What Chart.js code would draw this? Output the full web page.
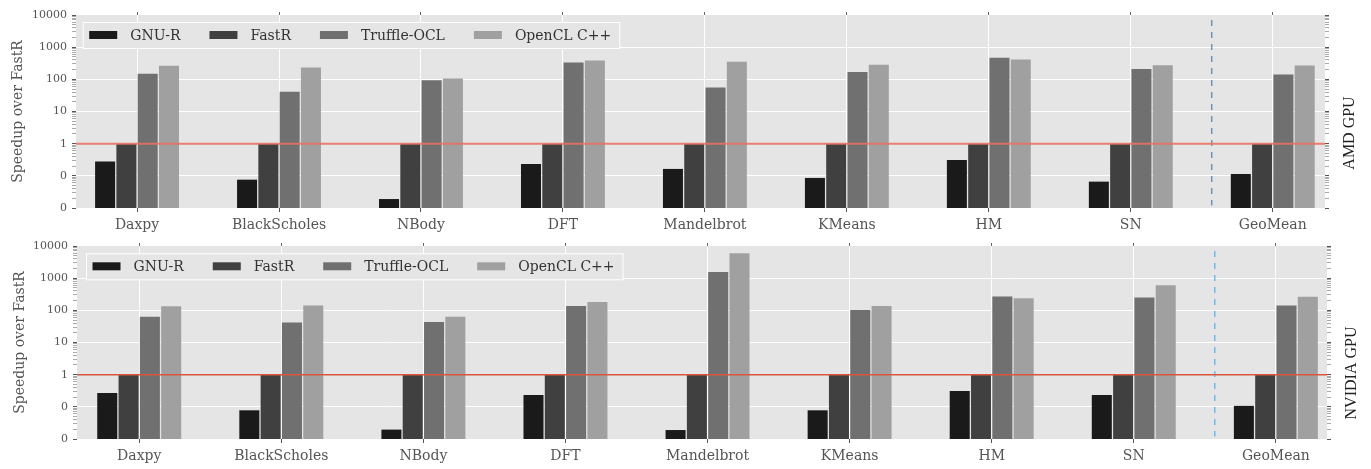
<!DOCTYPE html>
<html>
<head>
<meta charset="utf-8">
<script src="https://cdn.jsdelivr.net/npm/chart.js@4.4.0/dist/chart.umd.min.js"></script>
<style>
  body { margin: 0; background: #fff; }
  canvas { display: block; }
</style>
</head>
<body>
<canvas id="amdChart" width="1371" height="234"></canvas>
<canvas id="nvidiaChart" width="1371" height="235"></canvas>
<script>
// categories and series
const categories = ['Daxpy', 'BlackScholes', 'NBody', 'DFT', 'Mandelbrot', 'KMeans', 'HM', 'SN', 'GeoMean'];
const seriesNames = ['GNU-R', 'FastR', 'Truffle-OCL', 'OpenCL C++'];

// AMD GPU
const amdGnuR = [0.28, 0.076, 0.019, 0.234, 0.164, 0.086, 0.31, 0.066, 0.114];
const amdFastR = [1, 1, 1, 1, 1, 1, 1, 1, 1];
const amdTruffle = [148, 41, 93, 333, 56, 169, 468, 209, 142];
const amdOpenCL = [265, 234, 107, 386, 352, 284, 414, 276, 270];

// NVIDIA GPU
const nvGnuR = [0.27, 0.078, 0.0196, 0.234, 0.019, 0.078, 0.31, 0.234, 0.107];
const nvFastR = [1, 1, 1, 1, 1, 1, 1, 1, 1];
const nvTruffle = [63, 42, 43, 136, 1550, 102, 270, 252, 142];
const nvOpenCL = [133, 142, 63, 181, 6000, 136, 236, 600, 263];

// y axis (log) tick values and labels
const yTickValues = [0.01, 0.1, 1, 10, 100, 1000, 10000];
const yTickLabels = ['0', '0', '1', '10', '100', '1000', '10000'];

const barColors = ['#1a1a1a', '#404040', '#707070', '#a0a0a0'];
const FONT = 'DejaVu Serif';

function isDecade(v) {
    const l = Math.log10(v);
    return Math.abs(l - Math.round(l)) < 1e-6;
}

function logTicks() {
    const t = [];
    for (let e = -2; e < 4; e++) {
        for (let s = 1; s < 10; s++) t.push({ value: s * Math.pow(10, e) });
    }
    t.push({ value: 10000 });
    return t;
}

function labelFor(v) {
    const i = yTickValues.findIndex(t => Math.abs(Math.log10(t) - Math.log10(v)) < 1e-6);
    return i >= 0 ? yTickLabels[i] : '';
}

const panelPlugin = {
    id: 'panel',
    beforeDraw(chart) {
        const { ctx, chartArea: a } = chart;
        ctx.save();
        ctx.fillStyle = '#e5e5e5';
        ctx.fillRect(a.left, a.top, a.right - a.left, a.bottom - a.top);
        ctx.restore();
    },
    afterDraw(chart, args, opts) {
        const { ctx, chartArea: a } = chart;
        ctx.save();
        // legend box inside the plot
        ctx.font = '14px "' + FONT + '"';
        const items = chart.data.datasets.slice(0, 4);
        let x = a.left + opts.legendX + 6.5;
        const top = a.top + opts.legendY;
        const h = 26;
        const pos = [];
        items.forEach(ds => {
            const w = ctx.measureText(ds.label).width;
            pos.push({ x, w, ds });
            x += 41 + w + 29;
        });
        const boxLeft = a.left + opts.legendX;
        const boxRight = x - 29 + 8;
        ctx.fillStyle = '#e5e5e5';
        ctx.fillRect(boxLeft, top, boxRight - boxLeft, h);
        ctx.strokeStyle = '#ffffff';
        ctx.lineWidth = 1;
        ctx.strokeRect(boxLeft + 0.5, top + 0.5, boxRight - boxLeft, h);
        ctx.textBaseline = 'middle';
        pos.forEach(p => {
            ctx.fillStyle = p.ds.backgroundColor;
            ctx.fillRect(p.x, top + h / 2 - 4, 28, 8);
            ctx.fillStyle = '#333';
            ctx.fillText(p.ds.label, p.x + 41, top + h / 2 + 1);
        });
        // right side label
        ctx.translate(opts.sideX, opts.sideY);
        ctx.rotate(-Math.PI / 2);
        ctx.textAlign = 'center';
        ctx.fillStyle = '#222';
        ctx.font = '16px "Liberation Serif"';
        ctx.fillText(opts.side, 0, 0);
        ctx.restore();
    }
};

function makeChart(id, values, p) {
    const datasets = values.map((vals, k) => ({
        label: seriesNames[k],
        data: vals.map((v, i) => ({ x: i, y: v })),
        backgroundColor: barColors[k],
        borderWidth: 0,
        categoryPercentage: 0.6,
        barPercentage: 0.94,
        xAxisID: 'x',
        yAxisID: 'y',
        order: 2
    }));
    // reference line at speedup = 1
    datasets.push({
        type: 'line',
        label: 'baseline',
        data: [{ x: p.xMin, y: 1 }, { x: p.xMax, y: 1 }],
        borderColor: p.redColor,
        borderWidth: p.redWidth,
        pointRadius: 0,
        xAxisID: 'x',
        yAxisID: 'y',
        order: 0
    });
    // separator before GeoMean
    datasets.push({
        type: 'line',
        label: 'separator',
        data: [{ x: 7.57, y: 7000 }, { x: 7.57, y: 0.012 }],
        borderColor: p.blueColor,
        borderWidth: 1.5,
        borderDash: [6, 6],
        pointRadius: 0,
        xAxisID: 'x',
        yAxisID: 'y',
        order: 1
    });

    const catTicks = s => { s.ticks = categories.map((c, i) => ({ value: i })); };

    return new Chart(document.getElementById(id), {
        type: 'bar',
        data: { datasets },
        options: {
            responsive: false,
            animation: false,
            layout: { padding: 0 },
            plugins: {
                legend: { display: false },
                tooltip: { enabled: false },
                panel: p.panel
            },
            scales: {
                x: {
                    type: 'linear',
                    position: 'bottom',
                    min: p.xMin,
                    max: p.xMax,
                    offset: false,
                    afterBuildTicks: catTicks,
                    afterFit: s => { s.height = p.bottomH; },
                    ticks: {
                        autoSkip: false,
                        maxRotation: 0,
                        padding: 5,
                        color: '#555',
                        font: { family: FONT, size: 14 },
                        callback: v => categories[v]
                    },
                    grid: { color: '#ffffff', lineWidth: 1, tickLength: 4, tickColor: '#555', offset: false },
                    border: { display: false }
                },
                xTop: {
                    type: 'linear',
                    position: 'top',
                    min: p.xMin,
                    max: p.xMax,
                    offset: false,
                    afterBuildTicks: catTicks,
                    afterFit: s => { s.height = p.topH; },
                    ticks: { display: false },
                    grid: { drawOnChartArea: false, tickLength: 3, tickColor: '#666', offset: false },
                    border: { display: false }
                },
                y: {
                    type: 'logarithmic',
                    position: 'left',
                    min: 0.01,
                    max: 10000,
                    afterBuildTicks: s => { s.ticks = logTicks(); },
                    afterFit: s => { s.width = p.leftW; },
                    ticks: {
                        autoSkip: false,
                        padding: 5,
                        color: '#555',
                        font: { family: FONT, size: 11 },
                        callback: v => isDecade(v) ? labelFor(v) : ''
                    },
                    grid: {
                        color: c => (c.tick && isDecade(c.tick.value) && c.tick.value > 0.011 && c.tick.value < 9999) ? '#ffffff' : 'rgba(0,0,0,0)',
                        tickLength: 4,
                        tickColor: c => (c.tick && isDecade(c.tick.value)) ? '#555' : '#aaa'
                    },
                    border: { display: false },
                    title: {
                        display: true,
                        text: 'Speedup over FastR',
                        color: '#555',
                        font: { family: FONT, size: 14 },
                        padding: { top: p.titlePad, bottom: 0 }
                    }
                },
                y2: {
                    type: 'logarithmic',
                    position: 'right',
                    min: 0.01,
                    max: 10000,
                    afterBuildTicks: s => { s.ticks = logTicks(); },
                    afterFit: s => { s.width = p.rightW; },
                    ticks: { display: false },
                    grid: {
                        drawOnChartArea: false,
                        tickLength: 4,
                        tickColor: c => (c.tick && isDecade(c.tick.value)) ? '#555' : '#aaa'
                    },
                    border: { display: false }
                }
            }
        },
        plugins: [panelPlugin]
    });
}

makeChart('amdChart', [amdGnuR, amdFastR, amdTruffle, amdOpenCL], {
    xMin: -0.43, xMax: 8.368,
    leftW: 76, rightW: 46, topH: 15, bottomH: 26, titlePad: 10,
    redColor: 'rgba(232, 112, 98, 0.9)', redWidth: 2,
    blueColor: '#5b9bc8',
    panel: { legendX: 6.7, legendY: 7, side: 'AMD GPU', sideX: 1350, sideY: 133 }
});

makeChart('nvidiaChart', [nvGnuR, nvFastR, nvTruffle, nvOpenCL], {
    xMin: -0.438, xMax: 8.36,
    leftW: 77, rightW: 44, topH: 12, bottomH: 30, titlePad: 12,
    redColor: '#d9553c', redWidth: 1.5,
    blueColor: '#7db7dd',
    panel: { legendX: 9, legendY: 7.3, side: 'NVIDIA GPU', sideX: 1352, sideY: 139 }
});
</script>
</body>
</html>
